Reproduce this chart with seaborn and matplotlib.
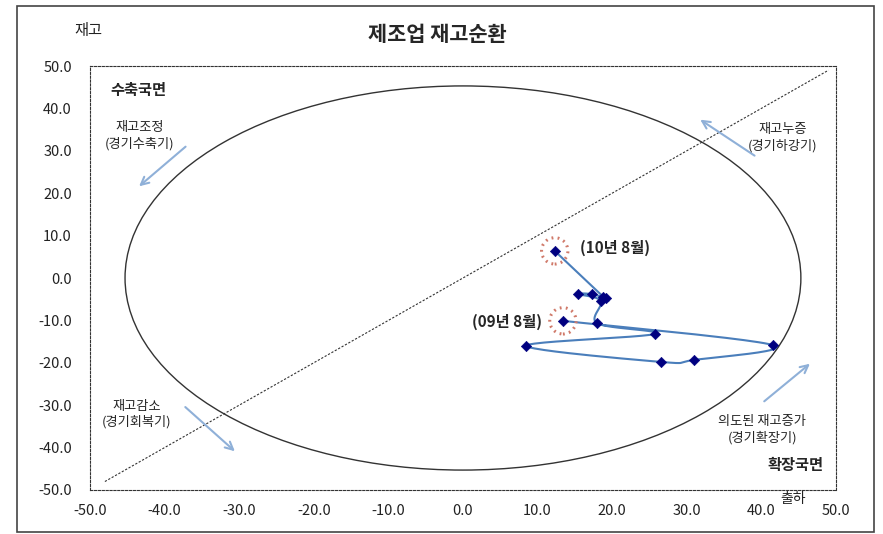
import numpy as np
import matplotlib
matplotlib.use('Agg')
import matplotlib.pyplot as plt
import seaborn as sns
from matplotlib.patches import Ellipse, Rectangle

sns.set_style('white')
plt.rcParams['font.family'] = ['Noto Sans CJK KR', 'DejaVu Sans']

# shipments (x) vs inventory (y), 2009.08 -> 2010.08
ship = [13.4, 41.5, 31.0, 26.6, 8.5, 25.7, 18.0, 18.5, 15.4, 17.3, 19.2, 18.8, 12.3]
inven = [-10.1, -15.8, -19.3, -19.8, -16.0, -13.2, -10.7, -5.4, -3.8, -3.8, -4.8, -4.4, 6.4]
ticks = list(range(-50, 51, 10))
tick_labels = [f'{t:.1f}' for t in ticks]


def smooth(xs, ys, n=25):
    # Catmull-Rom style smoothing like Excel's smoothed line
    p = np.column_stack([xs, ys]).astype(float)
    p = np.vstack([p[0], p, p[-1]])
    t = np.linspace(0, 1, n)[:, None]
    segs = []
    for i in range(1, len(p) - 2):
        p0, p1, p2, p3 = p[i - 1], p[i], p[i + 1], p[i + 2]
        segs.append(0.5 * (2 * p1 + (p2 - p0) * t + (2 * p0 - 5 * p1 + 4 * p2 - p3) * t ** 2
                           + (3 * p1 - p0 - 3 * p2 + p3) * t ** 3))
    return np.vstack(segs)


fig = plt.figure(figsize=(8.83, 5.34), dpi=100)
ax = fig.add_axes([0.1019, 0.0824, 0.8448, 0.794])

curve = smooth(ship, inven)
sns.lineplot(x=curve[:, 0], y=curve[:, 1], sort=False, estimator=None, ax=ax,
             color='#4a7ebb', linewidth=1.5)
sns.scatterplot(x=ship, y=inven, marker='D', color='#000080', s=28, edgecolor='#000080', ax=ax, zorder=5)

# highlight first and last month
hl_x = [ship[0], ship[-1]]
hl_y = [inven[0], inven[-1]]
ax.scatter(hl_x, hl_y, s=360, facecolors='none', edgecolors='#d07a6a', linewidths=2.2,
           linestyles=(0, (0.6, 1.4)), zorder=4)

# cycle circle and 45 degree line
ax.add_patch(Ellipse((0, 0), 90.6, 90.6, fill=False, edgecolor='#333333', linewidth=1.0))
ax.plot([-48, 49], [-48, 49], color='#333333', linestyle=(0, (2, 1.5)), linewidth=0.8)

ax.set_xlim(-50, 50)
ax.set_ylim(-50, 50)
ax.set_xticks(ticks)
ax.set_xticklabels(tick_labels)
ax.set_yticks(ticks)
ax.set_yticklabels(tick_labels)
ax.tick_params(axis='both', length=0, labelsize=10.5, labelcolor='#222222')
ax.tick_params(axis='y', pad=13)
ax.tick_params(axis='x', pad=10)
for sp in ax.spines.values():
    sp.set_linestyle((0, (2, 1.5)))
    sp.set_linewidth(0.8)
    sp.set_color('#333333')

arrow = dict(arrowstyle='->', color='#8fb0d8', lw=1.5, mutation_scale=14)
ax.annotate('', xy=(-43.7, 21.2), xytext=(-36.9, 31.4), arrowprops=arrow)
ax.annotate('', xy=(31.5, 37.7), xytext=(39.4, 28.5), arrowprops=arrow)
ax.annotate('', xy=(-30.3, -41.3), xytext=(-37.5, -30.0), arrowprops=arrow)
ax.annotate('', xy=(46.8, -19.8), xytext=(40.1, -29.5), arrowprops=arrow)

ax.text(-47.3, 44.3, '수축국면', fontsize=11, fontweight='bold', ha='left', va='center')
ax.text(48.3, -44.1, '확장국면', fontsize=11, fontweight='bold', ha='right', va='center')
ax.text(-43.3, 33.5, '재고조정\n(경기수축기)', fontsize=9.5, ha='center', va='center', linespacing=1.25)
ax.text(42.9, 33.1, '재고누증\n(경기하강기)', fontsize=9.5, ha='center', va='center', linespacing=1.25)
ax.text(-43.8, -32.1, '재고감소\n(경기회복기)', fontsize=9.5, ha='center', va='center', linespacing=1.25)
ax.text(40.1, -35.8, '의도된 재고증가\n(경기확장기)', fontsize=9.5, ha='center', va='center', linespacing=1.25)
ax.text(15.7, 7.1, '(10년 8월)', fontsize=11, fontweight='bold', ha='left', va='center')
ax.text(10.6, -10.4, '(09년 8월)', fontsize=11, fontweight='bold', ha='right', va='center')

fig.text(0.495, 0.936, '제조업 재고순환', fontsize=15, fontweight='bold', ha='center', va='center')
fig.text(0.0997, 0.942, '재고', fontsize=11, ha='center', va='center', color='#222222')
fig.text(0.898, 0.0655, '출하', fontsize=10, ha='center', va='center', color='#222222')

fig.patches.append(Rectangle((17 / 883, 1 - 532 / 534), 857 / 883, 526 / 534,
                             transform=fig.transFigure, fill=False, edgecolor='#444444', linewidth=1.2))

fig.savefig('out.png', dpi=100)
